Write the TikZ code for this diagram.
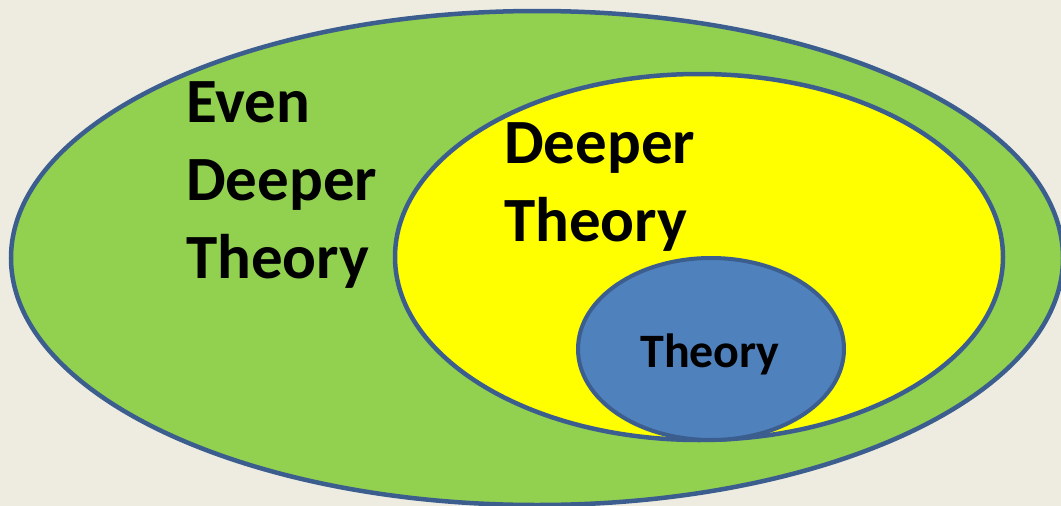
\documentclass[tikz,border=0pt]{standalone}
\usepackage{fontspec}
\setmainfont{Carlito}
\definecolor{bgtan}{HTML}{EEECE1}
\definecolor{ovgreen}{HTML}{92D050}
\definecolor{ovyellow}{HTML}{FFFF00}
\definecolor{ovblue}{HTML}{4F81BD}
\definecolor{ovline}{HTML}{3B5E8F}
\tikzset{
  setoval/.style={draw=ovline, line width=4.5pt},
  bigtext/.style={font=\bfseries\fontsize{63}{75}\selectfont, inner sep=0pt, align=left, anchor=base west},
  smalltext/.style={font=\bfseries\fontsize{48}{56}\selectfont, inner sep=0pt, anchor=base}
}
\begin{document}
\begin{tikzpicture}[x=1pt,y=-1pt]
\path[fill=bgtan, use as bounding box] (0,0) rectangle (1061,506);
\begin{scope}
\clip (0,0) rectangle (1061,506);
\path[setoval, fill=ovgreen] (537,258) ellipse [x radius=526, y radius=247];
\path[setoval, fill=ovyellow] (699,257) ellipse [x radius=304, y radius=183];
\path[setoval, line width=4pt, fill=ovblue] (711,349) ellipse [x radius=133, y radius=91];
\end{scope}
\node[bigtext] (even) at (186,278) {Even\\[3pt]Deeper\\[3pt]Theory};
\node[bigtext] (deeper) at (504,241) {Deeper\\[3pt]Theory};
\node[smalltext] (theory) at (710,367) {Theory};
\end{tikzpicture}
\end{document}
